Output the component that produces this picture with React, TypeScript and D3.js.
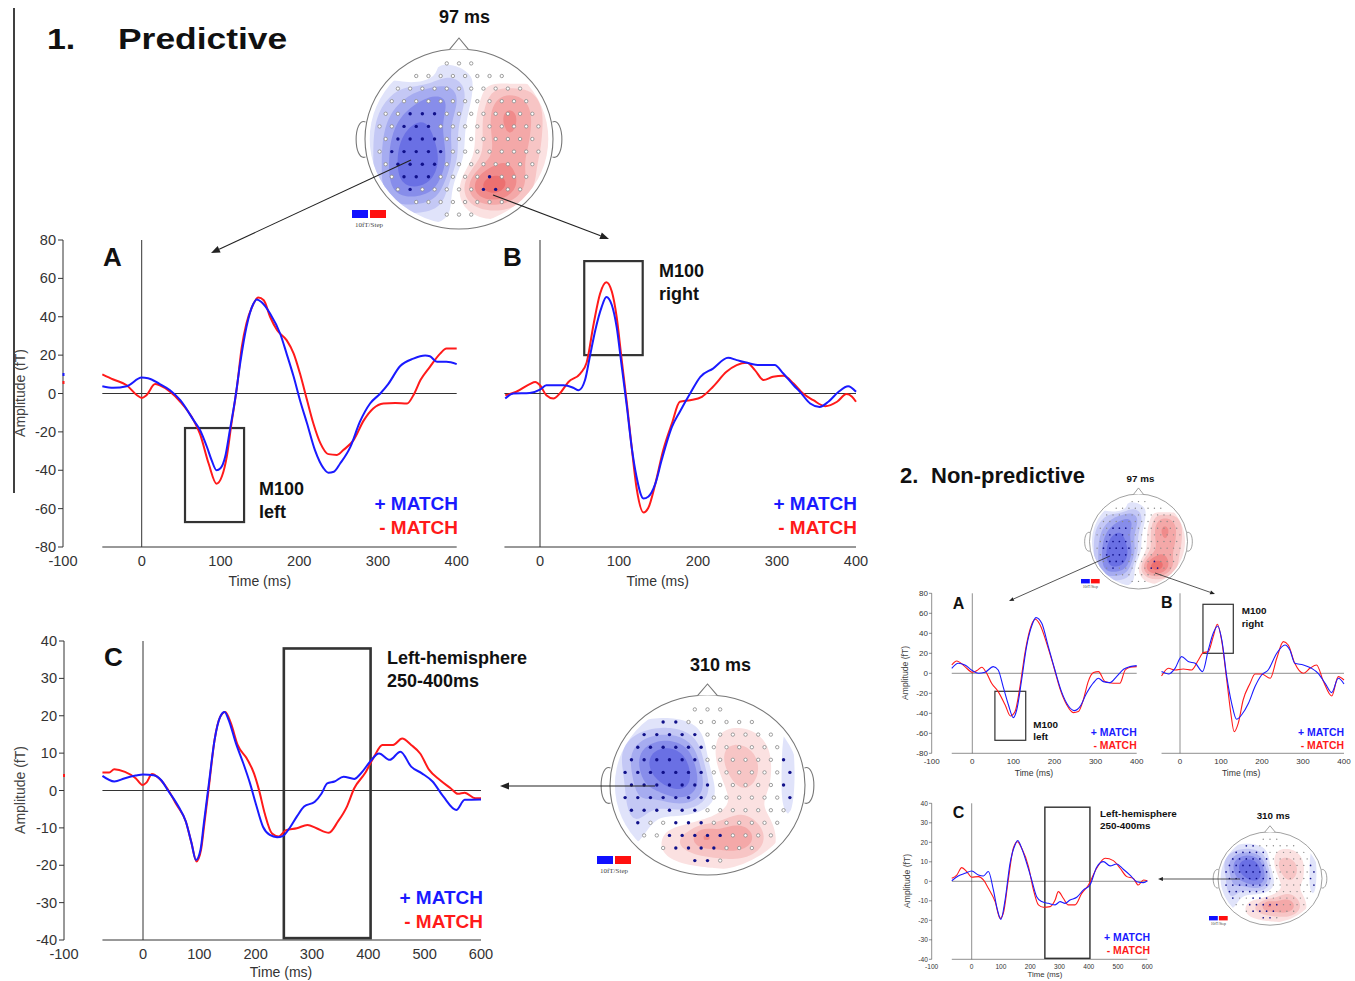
import React from 'react';
import * as d3 from 'd3';

type Pt = [number, number];
type Src = [number, number, number, number, number]; // u, v, amplitude, sx, sy

// ---- 1. Predictive (time ms, amplitude fT)
const predAPlus: Pt[] = [[-50,3.8],[-36,3],[-19,3.8],[0,8.3],[8,8],[23,4.9],[36,1.7],[49,-3.5],[66,-14],[74,-19],[83,-28],[89,-35],[95,-40],[100,-39],[106,-33],[112,-19],[119,-2],[125,15.6],[133,34.7],[142,46.9],[146,49],[152,47.7],[163,41.7],[176,31],[184,20.8],[193,8.7],[201,-3.5],[210,-15.6],[220,-29.5],[231,-39],[237,-41.3],[244,-40.8],[252,-36.5],[265,-27.8],[277,-14.8],[290,-5.2],[303,0],[313,4.9],[328,14.2],[345,18.2],[360,19.8],[366,19.4],[375,16.5],[387,16.5],[400,15.3]];
const predAMinus: Pt[] = [[-50,10],[-36,7.3],[-19,4.3],[-6,-0.9],[0,-2.3],[6,-0.9],[17,4.9],[23,4.2],[36,0.9],[49,-4.3],[66,-14],[74,-21],[85,-36.5],[95,-47],[102,-43],[108,-33],[114,-15.6],[121,3.5],[127,24],[133,36.5],[140,45],[148,50],[155,48.6],[163,40],[172,33],[184,27.8],[193,20.8],[201,10.4],[210,-3.5],[218,-15.6],[227,-26],[237,-31.6],[248,-32],[256,-29.5],[269,-24.3],[282,-14],[294,-7.8],[307,-5.2],[322,-4.9],[337,-5.2],[345,-0.9],[354,7],[366,13.9],[379,20.8],[387,23.4],[400,23.4]];
const predBPlus: Pt[] = [[-44,-2.6],[-34,0],[-13,0.3],[0,2],[8,4.3],[30,4.3],[42,3],[49,1.7],[57,7],[63,19],[70,33],[78,45],[84,50.3],[91,46],[97,34.7],[103,15.6],[110,-7],[116,-27.8],[122,-43],[131,-54.7],[137,-53.8],[146,-47],[154,-34.7],[167,-17.4],[177,-9.5],[190,0],[203,8.7],[219,13],[238,18.6],[249,17.4],[262,16],[278,14.8],[297,14.8],[308,10.4],[321,4.3],[329,0.9],[342,-5.2],[354,-7],[365,-4.3],[378,0.9],[390,3.8],[400,0.9]];
const predBMinus: Pt[] = [[-44,-0.9],[-30,0.9],[-13,4.9],[-6,6],[0,4.3],[8,-0.9],[17,-2.6],[25,0],[36,6],[51,10.4],[59,16],[68,36.5],[76,52],[84,58],[91,53],[97,40],[103,19],[110,-5.2],[116,-27.8],[122,-48.6],[131,-62],[137,-59.7],[146,-47],[156,-29.5],[167,-15.6],[177,-4.3],[190,-3.5],[205,-1.7],[219,3.5],[236,11.3],[249,14.8],[262,16],[272,12.2],[283,7],[295,8.7],[308,9.2],[321,5.2],[333,0],[346,-3.5],[361,-6.6],[376,-4.3],[388,-0.3],[395,-1.7],[400,-4.3]];
const predCPlus: Pt[] = [[-72,3.9],[-51,2.4],[-32,3.3],[-13,4],[0,4.3],[19,4.1],[32,2.8],[44,0.1],[63,-4.3],[76,-8.3],[86,-14],[94,-18.6],[102,-15.9],[108,-8.8],[117,1.9],[127,13.5],[137,19.7],[145,21],[152,18.9],[165,12.6],[178,7.3],[190,1.9],[200,-3.4],[213,-9.7],[225,-11.9],[238,-12.5],[248,-12.2],[260,-10.1],[273,-7],[286,-4.3],[305,-3],[317,-0.8],[327,1.9],[340,2.4],[356,3.7],[375,3.1],[387,4.6],[403,7.7],[419,9.9],[438,8.2],[457,10.4],[476,6.4],[495,4.6],[514,2.4],[533,-1.6],[556,-5.2],[571,-2.5],[600,-2.4]];
const predCMinus: Pt[] = [[-72,4.8],[-60,4.8],[-51,5.7],[-32,5],[-13,3.3],[-1,1.5],[6,2.1],[16,4.4],[25,3.7],[41,1],[60,-3.9],[76,-8.3],[86,-14],[95,-19],[103,-15.9],[109,-8.8],[117,1],[127,13.5],[137,19.7],[146,21],[156,18],[168,12.2],[184,8.6],[197,4.6],[206,0.1],[216,-6.1],[229,-11.5],[241,-12.3],[254,-10.6],[273,-10.1],[292,-9.2],[308,-10.1],[330,-11.3],[346,-8.3],[362,-4.3],[375,0.6],[394,4.6],[410,9],[425,12.2],[444,12.2],[460,13.9],[476,12.2],[492,9.9],[508,5.5],[527,2.8],[546,0.6],[559,-0.9],[571,-0.6],[590,-2.1],[600,-2.1]];

// ---- 2. Non-predictive
const nonAPlus: Pt[] = [[-50,5],[-34,10],[-18,8.3],[0,2.7],[15,0],[31,1],[51,6.7],[63,3.3],[75,-13.3],[88,-31.7],[100,-44.3],[108,-36.7],[120,-6.7],[132,26.7],[144,46.7],[155,55.7],[169,50],[185,26.7],[201,3.3],[217,-18.3],[234,-32.7],[248,-37.3],[262,-33.3],[278,-20],[295,-9.3],[307,-5],[319,-8.3],[335,-9.3],[351,-3.3],[368,4],[384,6.7],[400,7.7]];
const nonAMinus: Pt[] = [[-50,8.3],[-38,12.3],[-18,6.7],[0,1],[11,2.7],[23,6],[35,0],[47,-10],[63,-18.3],[80,-31.7],[93,-42.7],[104,-38.3],[116,-13.3],[128,20],[140,43.3],[153,54],[165,48.3],[181,30],[197,8.3],[213,-15],[230,-31.7],[246,-39.3],[258,-38.3],[270,-26.7],[282,-8.3],[295,0.7],[307,1.7],[323,-8.3],[343,-10],[359,-10],[372,3.3],[384,6],[400,6.7]];
const nonBPlus: Pt[] = [[-45,1.7],[-28,-0.7],[-12,5],[4,16.7],[20,11.7],[37,10],[55,1.7],[69,23.3],[81,40],[92,47.3],[102,33.3],[114,-3.3],[126,-30],[138,-46],[150,-41.7],[167,-30],[183,-13.3],[199,-1.7],[215,3.3],[236,20],[256,28.3],[268,23.3],[280,10],[301,8.3],[321,5],[337,0],[354,-10],[370,-19.3],[386,-5],[400,-10.7]];
const nonBMinus: Pt[] = [[-45,-2.7],[-28,5],[-12,3.3],[8,4.3],[28,3.3],[45,13.3],[57,20.7],[69,21.7],[81,36.7],[91,49],[102,31.7],[114,-6.7],[124,-40],[132,-58.3],[142,-50],[154,-26.7],[171,-10],[183,-0.7],[199,-0.7],[220,-5],[236,15],[252,31.7],[264,28.3],[280,10],[301,0],[317,5],[333,8.3],[350,-8.3],[370,-22.7],[386,-3.3],[400,-6.7]];
const nonCPlus: Pt[] = [[-68,0.3],[-46,2.7],[-23,4.1],[0,5.3],[23,3.2],[40,2.7],[57,5],[74,-4.4],[88,-14.7],[100,-19.5],[114,-9.6],[131,9.2],[148,18.6],[157,20.9],[171,16.9],[188,9.2],[205,0.7],[222,-7.9],[239,-10.4],[262,-11.3],[285,-12.1],[302,-10.4],[319,-11.3],[336,-9.6],[359,-8.2],[382,-4.4],[404,-1.9],[427,7.2],[450,10.1],[473,7.9],[495,8.9],[518,6.2],[541,3.2],[564,-0.2],[587,-0.7],[600,0.3]];
const nonCMinus: Pt[] = [[-68,1.5],[-51,3.2],[-34,7],[-17,5],[0,2.1],[23,2.4],[40,0.7],[57,-3.6],[80,-10.4],[97,-19],[108,-16.4],[125,0.7],[142,16.9],[156,20.3],[171,16.9],[194,7.5],[211,-4.4],[228,-12.1],[245,-13.3],[268,-13],[285,-9.6],[296,-5.3],[313,-8.7],[330,-12.1],[353,-12.1],[376,-6.2],[399,-1.9],[427,6.7],[456,11.8],[484,10.6],[507,6.7],[530,2.4],[552,1.5],[569,-1.9],[587,0.7],[600,0.3]];

const xTicksAB = [0, 100, 200, 300, 400];
const xTicksC = [0, 100, 200, 300, 400, 500, 600];
const yTicksAB = [-80, -60, -40, -20, 0, 20, 40, 60, 80];
const yTicksC = [-40, -30, -20, -10, 0, 10, 20, 30, 40];

// boxes: [t0, t1, v0, v1]
const boxM100Left = [55, 130, -18, -67];
const boxM100Right = [56, 130, 20, 69];
const boxLate = [250, 404, 38, -39.5];

// topographies (normalised head coordinates, v downwards)
const topo97: Src[] = [
  [-0.52, 0.25, -3.0, 0.26, 0.3], [-0.42, -0.25, -2.2, 0.35, 0.3], [-0.1, -0.5, -1.4, 0.25, 0.2],
  [-0.25, 0.4, -1.5, 0.22, 0.3], [-0.7, 0.6, -1.0, 0.2, 0.2],
  [0.3, 0.52, 3.0, 0.25, 0.17], [0.52, 0.0, 2.4, 0.28, 0.4], [0.45, -0.4, 1.1, 0.3, 0.2],
  [-0.45, -0.72, 1.3, 0.14, 0.07], [0.55, -0.7, -1.1, 0.18, 0.07],
];
const topo310: Src[] = [
  [-0.38, -0.15, -3.0, 0.25, 0.25], [-0.5, -0.4, -1.8, 0.3, 0.2], [-0.2, 0.05, -1.2, 0.2, 0.2],
  [-0.75, 0.25, -1.2, 0.15, 0.35], [0.8, -0.15, -1.0, 0.07, 0.45],
  [0.35, -0.2, 1.6, 0.2, 0.28], [0.1, -0.35, 0.8, 0.15, 0.2], [0.0, 0.6, 1.8, 0.35, 0.18],
  [0.35, 0.55, 1.2, 0.2, 0.2], [-0.05, 0.55, 0.8, 0.08, 0.08],
];
const sig97: [number, number, number][] = [[0.31, 0.5, 0.11]];
const sig310: [number, number, number][] = [[-0.15, 0.65, 0.3]];

const LEVELS = [0.5, 1.2, 1.9, 2.6, 3.4];
const BLUES = ['#e0e3fa', '#c4c8f5', '#a6acf0', '#878dea', '#6a70e4'];
const REDS = ['#fbe1e1', '#f7c5c5', '#f4a8a8', '#f08b8b', '#ec7070'];
const PLUS = '#1a1aff';
const MINUS = '#ff1a1a';

type PanelProps = {
  xMax: number; xRng: [number, number]; yDom: [number, number]; yRng: [number, number];
  lineStart: number; yAxisX?: number; yLabelXY?: Pt; xTicks: number[]; yTicks: number[];
  plus: Pt[]; minus: Pt[]; box: number[]; letter: string; letterXY: Pt;
  note: string[]; noteXY: Pt; legendXY: Pt; timeAt: number; timeDy: number; k: number;
  tickFs?: number; timeFs?: number;
};

function Panel(p: PanelProps) {
  const x = d3.scaleLinear().domain([0, p.xMax]).range(p.xRng);
  const y = d3.scaleLinear().domain(p.yDom).range(p.yRng);
  const line = d3.line<Pt>().x(d => x(d[0])).y(d => y(d[1])).curve(d3.curveMonotoneX);
  const k = p.k;
  const kl = k < 1 ? k * 1.12 : 1;
  const tickFs = p.tickFs ?? 14.6 * k;
  const timeFs = p.timeFs ?? 14 * kl;
  const [yMin, yMax] = p.yDom;
  const [t0, t1, v0, v1] = p.box;
  const axis = '#333';
  return (
    <g>
      {p.yAxisX !== undefined && (
        <g>
          <line x1={p.yAxisX} x2={p.yAxisX} y1={y(yMax)} y2={y(yMin)} stroke={axis} strokeWidth={k} />
          {p.yTicks.map(t => (
            <g key={t}>
              <line x1={p.yAxisX! - 5 * k} x2={p.yAxisX} y1={y(t)} y2={y(t)} stroke={axis} strokeWidth={k} />
              <text x={p.yAxisX! - 7 * k} y={y(t)} dy="0.35em" textAnchor="end" fontSize={tickFs} fill={axis}>{t}</text>
            </g>
          ))}
          <text x={p.yAxisX} y={y(yMin) + 0.7 * tickFs + 8.5 * k} textAnchor="middle" fontSize={tickFs} fill={axis}>-100</text>
          <text transform={`translate(${p.yLabelXY![0]},${p.yLabelXY![1]}) rotate(-90)`} textAnchor="middle" dy="0.35em" fontSize={14 * kl} fill="#444">Amplitude (fT)</text>
        </g>
      )}
      <line x1={x(p.lineStart)} x2={x(p.xMax)} y1={y(yMin)} y2={y(yMin)} stroke={axis} strokeWidth={k} />
      <line x1={x(p.lineStart)} x2={x(p.xMax)} y1={y(0)} y2={y(0)} stroke={axis} strokeWidth={k} />
      <line x1={x(0)} x2={x(0)} y1={y(yMax)} y2={y(yMin)} stroke={axis} strokeWidth={k} />
      {p.xTicks.map(t => (
        <text key={t} x={x(t)} y={y(yMin) + 0.7 * tickFs + 8.5 * k} textAnchor="middle" fontSize={tickFs} fill={axis}>{t}</text>
      ))}
      <text x={x(p.timeAt)} y={y(yMin) + p.timeDy} textAnchor="middle" fontSize={timeFs} fill="#333">Time (ms)</text>
      <rect x={x(t0)} y={y(Math.max(v0, v1))} width={x(t1) - x(t0)} height={Math.abs(y(v0) - y(v1))}
        fill="none" stroke="#333" strokeWidth={(p.box === boxLate ? 2.6 : 2.2) * k} />
      <path d={line(p.minus) || ''} fill="none" stroke={MINUS} strokeWidth={2 * k} />
      <path d={line(p.plus) || ''} fill="none" stroke={PLUS} strokeWidth={2 * k} />
      <text x={p.letterXY[0]} y={p.letterXY[1]} fontSize={26 * kl} fontWeight="bold" fill="#111">{p.letter}</text>
      {p.note.map((s, i) => (
        <text key={s} x={p.noteXY[0]} y={p.noteXY[1] + i * 23 * k} fontSize={18 * k} fontWeight="bold" fill="#111">{s}</text>
      ))}
      <text x={p.legendXY[0]} y={p.legendXY[1]} textAnchor="end" fontSize={19 * k} fontWeight="bold" fill={PLUS}>+ MATCH</text>
      <text x={p.legendXY[0]} y={p.legendXY[1] + 24 * k} textAnchor="end" fontSize={19 * k} fontWeight="bold" fill={MINUS}>- MATCH</text>
    </g>
  );
}

type TopoProps = {
  id: string; cx: number; cy: number; rx: number; ry: number; src: Src[];
  sigLevel: number; sigCircles: [number, number, number][]; k: number; bar: Pt;
};

function Topo({ id, cx, cy, rx, ry, src, sigLevel, sigCircles, k, bar }: TopoProps) {
  const n = 64;
  const field = (u: number, v: number) =>
    src.reduce((s, [su, sv, a, sx, sy]) => s + a * Math.exp(-((u - su) ** 2) / (2 * sx * sx) - ((v - sv) ** 2) / (2 * sy * sy)), 0);
  const vals = d3.range(n * n).map(idx => field((idx % n) / (n - 1) * 2 - 1, Math.floor(idx / n) / (n - 1) * 2 - 1));
  const gen = d3.contours().size([n, n]).thresholds(LEVELS);
  const pos = gen(vals);
  const neg = gen(vals.map(v => -v));
  const tr = d3.geoTransform({
    point(px: number, py: number) {
      (this as any).stream.point(cx + (px / (n - 1) * 2 - 1) * rx, cy + (py / (n - 1) * 2 - 1) * ry);
    },
  });
  const path = d3.geoPath(tr);

  const dots: { u: number; v: number; sig: boolean }[] = [];
  for (let j = 0; j < 13; j++) {
    const v = -0.84 + j * 0.14;
    for (let i = -7; i <= 7; i++) {
      const u = i * 0.13 + (j % 2 ? 0.065 : 0);
      if (u * u + v * v < 0.87 * 0.87) {
        const f = field(u, v);
        const sig = f < sigLevel || sigCircles.some(([a, b, r]) => (u - a) ** 2 + (v - b) ** 2 < r * r);
        dots.push({ u, v, sig });
      }
    }
  }
  const big = k >= 1;
  const earW = 12 * k;
  const sw = big ? 1.1 : 0.7;
  return (
    <g>
      <defs>
        <clipPath id={id}><ellipse cx={cx} cy={cy} rx={rx * 0.95} ry={ry * 0.95} /></clipPath>
      </defs>
      <ellipse cx={cx} cy={cy} rx={rx} ry={ry} fill="#fff" />
      <g clipPath={`url(#${id})`}>
        {neg.map((c, i) => <path key={'n' + i} d={path(c as any) || ''} fill={BLUES[i]} />)}
        {pos.map((c, i) => <path key={'p' + i} d={path(c as any) || ''} fill={REDS[i]} />)}
      </g>
      <ellipse cx={cx} cy={cy} rx={rx} ry={ry} fill="none" stroke="#777" strokeWidth={sw} />
      <path d={`M${cx - 0.1 * rx},${cy - ry * 0.995} L${cx},${cy - ry - 11 * k} L${cx + 0.1 * rx},${cy - ry * 0.995}`} fill="#fff" stroke="#777" strokeWidth={sw} />
      <path d={`M${cx - rx + 0.5},${cy - 0.19 * ry} C${cx - rx - earW},${cy - 0.24 * ry} ${cx - rx - earW},${cy + 0.25 * ry} ${cx - rx + 0.5},${cy + 0.2 * ry}`} fill="none" stroke="#777" strokeWidth={sw} />
      <path d={`M${cx + rx - 0.5},${cy - 0.19 * ry} C${cx + rx + earW},${cy - 0.24 * ry} ${cx + rx + earW},${cy + 0.25 * ry} ${cx + rx - 0.5},${cy + 0.2 * ry}`} fill="none" stroke="#777" strokeWidth={sw} />
      {dots.map((d, i) => d.sig
        ? <circle key={i} cx={cx + d.u * rx} cy={cy + d.v * ry} r={big ? 1.7 : 0.85} fill="#10108a" />
        : <circle key={i} cx={cx + d.u * rx} cy={cy + d.v * ry} r={big ? 1.7 : 0.7} fill={big ? '#fff' : '#888'} stroke={big ? '#888' : 'none'} strokeWidth={0.8} />)}
      <rect x={bar[0]} y={bar[1]} width={16 * k} height={8 * k} fill="#1010ff" />
      <rect x={bar[0] + 18 * k} y={bar[1]} width={16 * k} height={8 * k} fill="#ff1010" />
      <text x={bar[0] + 17 * k} y={bar[1] + 17 * k} textAnchor="middle" fontSize={7 * k} fontFamily="'Liberation Serif', serif" fill="#444">10fT/Step</text>
    </g>
  );
}

function Arrow({ from, to, k }: { from: Pt; to: Pt; k: number }) {
  const a = Math.atan2(to[1] - from[1], to[0] - from[0]);
  const L = 9 * k, W = 3.5 * k;
  const bx = to[0] - L * Math.cos(a), by = to[1] - L * Math.sin(a);
  const nx = -Math.sin(a) * W, ny = Math.cos(a) * W;
  return (
    <g>
      <line x1={from[0]} y1={from[1]} x2={bx} y2={by} stroke="#222" strokeWidth={1.1 * Math.max(k, 0.7)} />
      <path d={`M${to[0]},${to[1]} L${bx + nx},${by + ny} L${bx - nx},${by - ny} Z`} fill="#222" />
    </g>
  );
}

export default function App() {
  const ks = 0.55;
  return (
    <svg width={1355} height={981} style={{ position: 'absolute', left: 0, top: 0, background: '#fff' }}
      fontFamily="'Liberation Sans', Arial, sans-serif">
      <rect width={1355} height={981} fill="#fff" />
      <line x1={14} x2={14} y1={8} y2={493} stroke="#000" strokeWidth={1.5} />
      <text transform="translate(47,49) scale(1.15,1)" fontSize={29.5} fontWeight="bold" fill="#111">1.</text>
      <text transform="translate(118,49) scale(1.2,1)" fontSize={29.5} fontWeight="bold" fill="#111">Predictive</text>

      <text x={464.5} y={23} textAnchor="middle" fontSize={18} fontWeight="bold" fill="#111">97 ms</text>
      <Topo id="t97" cx={459} cy={139} rx={94} ry={90} src={topo97} sigLevel={-2.9} sigCircles={sig97} k={1} bar={[352, 210]} />
      <Arrow from={[411, 160]} to={[211, 253]} k={1} />
      <Arrow from={[493, 195]} to={[609, 239]} k={1} />

      <Panel xMax={400} xRng={[141.7, 456.7]} yDom={[-80, 80]} yRng={[547, 240]} lineStart={-50}
        yAxisX={63} yLabelXY={[20, 393]} xTicks={xTicksAB} yTicks={yTicksAB} plus={predAPlus} minus={predAMinus}
        box={boxM100Left} letter="A" letterXY={[103, 266]} note={['M100', 'left']} noteXY={[259, 495]}
        legendXY={[458, 510]} timeAt={150} timeDy={39} k={1} />
      <Panel xMax={400} xRng={[540, 856]} yDom={[-80, 80]} yRng={[547, 240]} lineStart={-45}
        xTicks={xTicksAB} yTicks={yTicksAB} plus={predBPlus} minus={predBMinus}
        box={boxM100Right} letter="B" letterXY={[503, 266]} note={['M100', 'right']} noteXY={[659, 277]}
        legendXY={[857, 510]} timeAt={149} timeDy={39} k={1} />
      <rect x={62.5} y={373} width={2} height={3} fill={PLUS} />
      <rect x={62.5} y={381} width={2} height={3} fill={MINUS} />

      <Panel xMax={600} xRng={[143, 481]} yDom={[-40, 40]} yRng={[940, 641]} lineStart={-72}
        yAxisX={64} yLabelXY={[20, 790]} xTicks={xTicksC} yTicks={yTicksC} plus={predCPlus} minus={predCMinus}
        box={boxLate} letter="C" letterXY={[104, 666]} note={['Left-hemisphere', '250-400ms']} noteXY={[387, 664]}
        legendXY={[483, 904]} timeAt={245} timeDy={37} k={1} />
      <rect x={63} y={774} width={2} height={3} fill={MINUS} />

      <text x={720.5} y={671} textAnchor="middle" fontSize={18} fontWeight="bold" fill="#111">310 ms</text>
      <Topo id="t310" cx={707.5} cy={785} rx={97.5} ry={90} src={topo310} sigLevel={-0.6} sigCircles={sig310} k={1} bar={[597, 856]} />
      <Arrow from={[655, 786]} to={[500, 786]} k={1} />

      {/* 2. Non-predictive */}
      <text x={900} y={483} fontSize={22} fontWeight="bold" fill="#111">2.</text>
      <text x={931} y={483} fontSize={22} fontWeight="bold" fill="#111">Non-predictive</text>
      <text x={1140.5} y={481.5} textAnchor="middle" fontSize={9.8} fontWeight="bold" fill="#111">97 ms</text>
      <Topo id="s97" cx={1138.5} cy={541.5} rx={49} ry={47.5} src={topo97} sigLevel={-2.9} sigCircles={sig97} k={ks} bar={[1081, 579]} />
      <Arrow from={[1110, 556]} to={[1009, 601]} k={ks} />
      <Arrow from={[1155, 573]} to={[1215, 594]} k={ks} />

      <Panel xMax={400} xRng={[972.3, 1136.7]} yDom={[-80, 80]} yRng={[753.3, 593.3]} lineStart={-50}
        yAxisX={931.7} yLabelXY={[905, 673]} xTicks={xTicksAB} yTicks={yTicksAB} plus={nonAPlus} minus={nonAMinus}
        box={boxM100Left} letter="A" letterXY={[952.7, 609]} note={['M100', 'left']} noteXY={[1033.3, 727.7]}
        legendXY={[1136.7, 736]} timeAt={150} timeDy={22.5} k={ks} />
      <Panel xMax={400} xRng={[1180, 1344]} yDom={[-80, 80]} yRng={[753.3, 593.3]} lineStart={-45}
        xTicks={xTicksAB} yTicks={yTicksAB} plus={nonBPlus} minus={nonBMinus}
        box={boxM100Right} letter="B" letterXY={[1161, 608]} note={['M100', 'right']} noteXY={[1241.7, 614.3]}
        legendXY={[1344, 736]} timeAt={149} timeDy={22.5} k={ks} />
      <Panel xMax={600} xRng={[971.7, 1147.3]} yDom={[-40, 40]} yRng={[959.3, 803.3]} lineStart={-68}
        yAxisX={931.7} yLabelXY={[907, 881]} xTicks={xTicksC} yTicks={yTicksC} plus={nonCPlus} minus={nonCMinus}
        box={boxLate} letter="C" letterXY={[952.7, 817.7]} note={['Left-hemisphere', '250-400ms']} noteXY={[1100, 816.7]}
        legendXY={[1150, 940.7]} timeAt={250} timeDy={17.7} k={ks} tickFs={6.6} timeFs={7.8} />

      <text x={1273.3} y={819.3} textAnchor="middle" fontSize={9.8} fontWeight="bold" fill="#111">310 ms</text>
      <Topo id="s310" cx={1270} cy={878.5} rx={52} ry={46.7} src={topo310} sigLevel={-0.6} sigCircles={sig310} k={ks} bar={[1209, 916]} />
      <Arrow from={[1240, 879]} to={[1158, 879]} k={ks} />
    </svg>
  );
}
